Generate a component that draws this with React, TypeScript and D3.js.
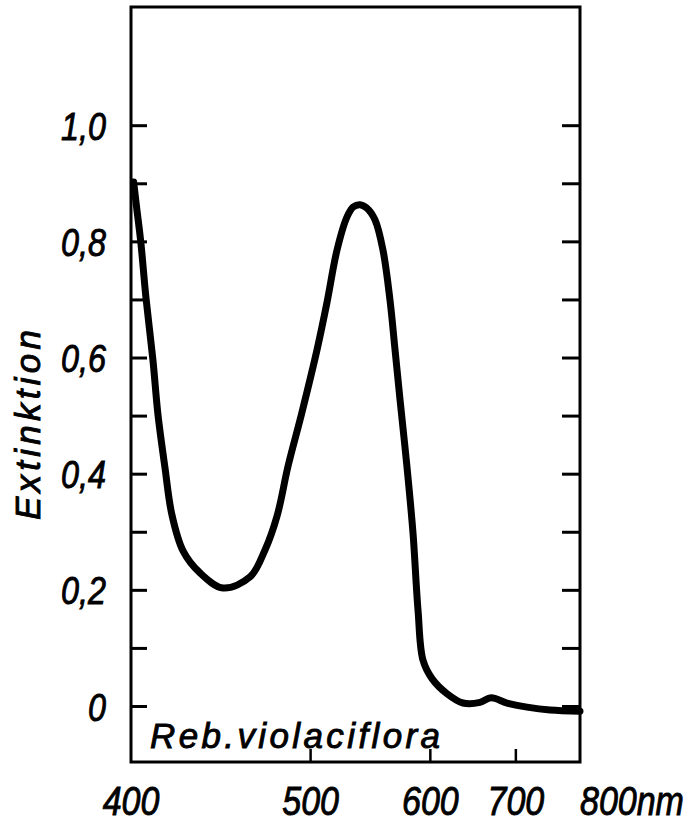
import React from "react";
import * as d3 from "d3";

// Wavelength (nm) and extinction
const wavelengths = [401.2, 402.5, 404.4, 406.8, 410.0, 412.4, 415.7, 419.1, 424.6, 433.3, 445.7, 461.1, 470.1, 477.7, 484.8, 494.1, 504.5, 511.7, 519.1, 526.7, 531.5, 536.9, 542.5, 549.2, 556.0, 562.1, 566.6, 571.1, 577.5, 583.1, 587.9, 592.7, 601.7, 617.2, 634.6, 654.3, 667.7, 688.1, 715.6, 749.9, 800];
const extinction = [0.903, 0.86, 0.8, 0.703, 0.597, 0.502, 0.412, 0.33, 0.268, 0.23, 0.204, 0.223, 0.269, 0.328, 0.414, 0.507, 0.614, 0.696, 0.786, 0.843, 0.86, 0.864, 0.858, 0.838, 0.786, 0.7, 0.614, 0.528, 0.412, 0.299, 0.166, 0.08, 0.048, 0.022, 0.006, 0.007, 0.015, 0.006, -0.001, -0.006, -0.008];

const xTickValues = [400, 500, 600, 700, 800];
const xTickLabels = ["400", "500", "600", "700", "800nm"];
const yTickValues = [0, 0.1, 0.2, 0.3, 0.4, 0.5, 0.6, 0.7, 0.8, 0.9, 1.0];
const yLabelValues = [0, 0.2, 0.4, 0.6, 0.8, 1.0];
const yLabelTexts = ["0", "0,2", "0,4", "0,6", "0,8", "1,0"];
const yTitle = "Extinktion";
const sampleName = "Reb.violaciflora";

const W = 690;
const H = 827;
const left = 131;
const right = 580;
const top = 7;
const bottom = 762;

const FONT = "'Liberation Sans', Arial, sans-serif";

export default function App() {
  // x axis linear in 1/λ (wavenumber-like)
  const x = d3.scaleLinear().domain([1 / 400, 1 / 800]).range([left, right]);
  const y = d3.scaleLinear().domain([0, 1]).range([706.5, 125.7]);

  const pts: [number, number][] = wavelengths.map((w, i) => [x(1 / w), y(extinction[i])]);
  const line = d3.line<[number, number]>().x((d) => d[0]).y((d) => d[1]).curve(d3.curveCatmullRom.alpha(0.5));

  const textStroke = { stroke: "#000", strokeWidth: 0.9 };

  return (
    <svg width={W} height={H} style={{ position: "absolute", left: 0, top: 0, background: "#fff" }}>
      <rect x={0} y={0} width={W} height={H} fill="#fff" />
      {/* frame */}
      <rect x={left} y={top} width={right - left} height={bottom - top} fill="none" stroke="#000" strokeWidth={3} />
      {/* left ticks */}
      {yTickValues.map((v) => (
        <line key={"l" + v} x1={left} x2={left + 16} y1={y(v)} y2={y(v)} stroke="#000" strokeWidth={3} />
      ))}
      {/* right ticks */}
      {yTickValues.map((v) => (
        <line key={"r" + v} x1={right} x2={right - 18} y1={y(v)} y2={y(v)} stroke="#000" strokeWidth={3} />
      ))}
      {/* bottom ticks */}
      {xTickValues.slice(1, 4).map((w) => (
        <line key={"b" + w} x1={x(1 / w)} x2={x(1 / w)} y1={bottom} y2={bottom - 13} stroke="#000" strokeWidth={2.5} />
      ))}
      {/* curve */}
      <path d={line(pts) || ""} fill="none" stroke="#000" strokeWidth={7} strokeLinejoin="round" strokeLinecap="round" />
      {/* y labels */}
      {yLabelValues.map((v, i) => (
        <g key={"yl" + v} transform={`translate(106,${y(v) + 14}) scale(0.85,1)`}>
          <text textAnchor="end" fontFamily={FONT} fontStyle="italic" fontSize={38} fill="#000" {...textStroke}>
            {yLabelTexts[i]}
          </text>
        </g>
      ))}
      {/* x labels */}
      {xTickValues.map((w, i) => {
        const isLast = i === xTickValues.length - 1;
        return (
          <g key={"xl" + w} transform={`translate(${isLast ? 580 : x(1 / w)},815) scale(0.85,1)`}>
            <text textAnchor={isLast ? "start" : "middle"} fontFamily={FONT} fontStyle="italic" fontSize={40} fill="#000" {...textStroke}>
              {xTickLabels[i]}
            </text>
          </g>
        );
      })}
      {/* y title */}
      <text
        transform="translate(40,520) rotate(-90)"
        fontFamily={FONT}
        fontStyle="italic"
        fontSize={35}
        textLength={190}
        lengthAdjust="spacing"
        fill="#000"
        {...textStroke}
      >
        {yTitle}
      </text>
      {/* sample name */}
      <text x={150} y={748} fontFamily={FONT} fontStyle="italic" fontSize={35} textLength={290} lengthAdjust="spacing" fill="#000" {...textStroke}>
        {sampleName}
      </text>
    </svg>
  );
}
